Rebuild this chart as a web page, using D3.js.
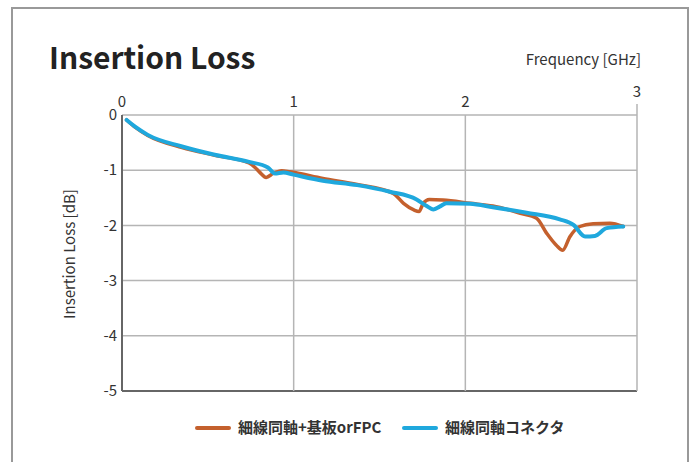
<!DOCTYPE html>
<html><head><meta charset="utf-8">
<script src="https://cdn.jsdelivr.net/npm/d3@7"></script>
<style>body{margin:0;background:#fff}svg{display:block}</style>
</head><body>
<script>
const freqA = [0.027,0.08,0.15,0.35,0.54,0.74,0.775,0.80,0.84,0.88,0.93,0.978,1.17,1.37,1.58,1.64,1.70,1.73,1.755,1.79,1.87,2.03,2.16,2.32,2.415,2.473,2.53,2.567,2.61,2.667,2.745,2.842,2.92];
const lossA = [-0.09,-0.23,-0.37,-0.59,-0.73,-0.87,-0.95,-1.03,-1.13,-1.06,-1.01,-1.03,-1.15,-1.26,-1.42,-1.60,-1.72,-1.75,-1.60,-1.53,-1.54,-1.60,-1.65,-1.78,-1.87,-2.14,-2.36,-2.45,-2.20,-2.02,-1.97,-1.96,-2.02];
const freqB = [0.027,0.08,0.15,0.35,0.54,0.74,0.85,0.89,0.94,1.0,1.17,1.37,1.56,1.716,1.77,1.813,1.85,1.89,2.027,2.16,2.357,2.55,2.63,2.697,2.755,2.823,2.92];
const lossB = [-0.09,-0.22,-0.36,-0.57,-0.72,-0.85,-0.95,-1.06,-1.04,-1.08,-1.19,-1.27,-1.39,-1.53,-1.64,-1.71,-1.66,-1.60,-1.61,-1.67,-1.77,-1.89,-1.99,-2.20,-2.19,-2.05,-2.02];
const xTicks = [0,1,2,3];
const yTicks = [0,-1,-2,-3,-4,-5];
const seriesNames = ["細線同軸+基板orFPC","細線同軸コネクタ"];
const colors = ["#c4602d","#1fa8dd"];

const W=694,H=462;
const svg=d3.select("body").append("svg").attr("width",W).attr("height",H);
const font="'Noto Sans CJK JP','Noto Sans',sans-serif";
// frame
svg.append("path").attr("d","M12,470 V8 H688 V470").attr("fill","none").attr("stroke","#999").attr("stroke-width",2);

const x=d3.scaleLinear().domain([0,3]).range([122,637]);
const y=d3.scaleLinear().domain([0,-5]).range([115,391]);

// gridlines
const g=svg.append("g");
g.selectAll(".hg").data(yTicks).join("line")
 .attr("x1",x(0)).attr("x2",x(3)).attr("y1",d=>y(d)).attr("y2",d=>y(d))
 .attr("stroke",d=>d===-5?"#666":"#b5b5b5").attr("stroke-width",d=>d===-5?2:1.5);
g.selectAll(".vg").data(xTicks).join("line")
 .attr("x1",d=>x(d)).attr("x2",d=>x(d)).attr("y1",d=>d===3?104:y(0)).attr("y2",y(-5))
 .attr("stroke",d=>d===0?"#666":"#b5b5b5").attr("stroke-width",d=>d===0?2:1.5);

// tick labels
svg.selectAll(".yl").data(yTicks).join("text")
 .attr("x",117).attr("y",d=>y(d)).attr("dy","0.35em").attr("text-anchor","end")
 .attr("font-family",font).attr("font-size",15).attr("fill","#333").text(d=>d);
svg.selectAll(".xl").data(xTicks).join("text")
 .attr("x",d=>x(d)).attr("y",d=>d===3?97:107).attr("text-anchor","middle")
 .attr("font-family",font).attr("font-size",15).attr("fill","#333").text(d=>d);

// titles
svg.append("text").attr("x",49).attr("y",69).attr("font-family",font).attr("font-weight","bold")
 .attr("font-size",30).attr("fill","#222").text("Insertion Loss");
svg.append("text").attr("x",641).attr("y",65).attr("text-anchor","end").attr("font-family",font)
 .attr("font-size",15).attr("fill","#333").text("Frequency [GHz]");
svg.append("text").attr("transform","translate(75,254) rotate(-90)").attr("text-anchor","middle")
 .attr("font-family",font).attr("font-size",15).attr("fill","#333").text("Insertion Loss [dB]");

// lines
const line=d3.line().x(d=>x(d[0])).y(d=>y(d[1])).curve(d3.curveMonotoneX);
svg.append("path").datum(d3.zip(freqA,lossA)).attr("d",line).attr("fill","none")
 .attr("stroke",colors[0]).attr("stroke-width",3.5).attr("stroke-linejoin","round").attr("stroke-linecap","round");
svg.append("path").datum(d3.zip(freqB,lossB)).attr("d",line).attr("fill","none")
 .attr("stroke",colors[1]).attr("stroke-width",4).attr("stroke-linejoin","round").attr("stroke-linecap","round");

// legend
const lg=[{x:197,tx:238},{x:404,tx:445}];
lg.forEach((l,i)=>{
 svg.append("line").attr("x1",l.x).attr("x2",l.x+32).attr("y1",428).attr("y2",428)
  .attr("stroke",colors[i]).attr("stroke-width",4).attr("stroke-linecap","round");
 svg.append("text").attr("x",l.tx).attr("y",428).attr("dy","0.35em").attr("font-family",font)
  .attr("font-weight","bold").attr("font-size",15).attr("fill","#333").text(seriesNames[i]);
});
</script>
</body></html>
